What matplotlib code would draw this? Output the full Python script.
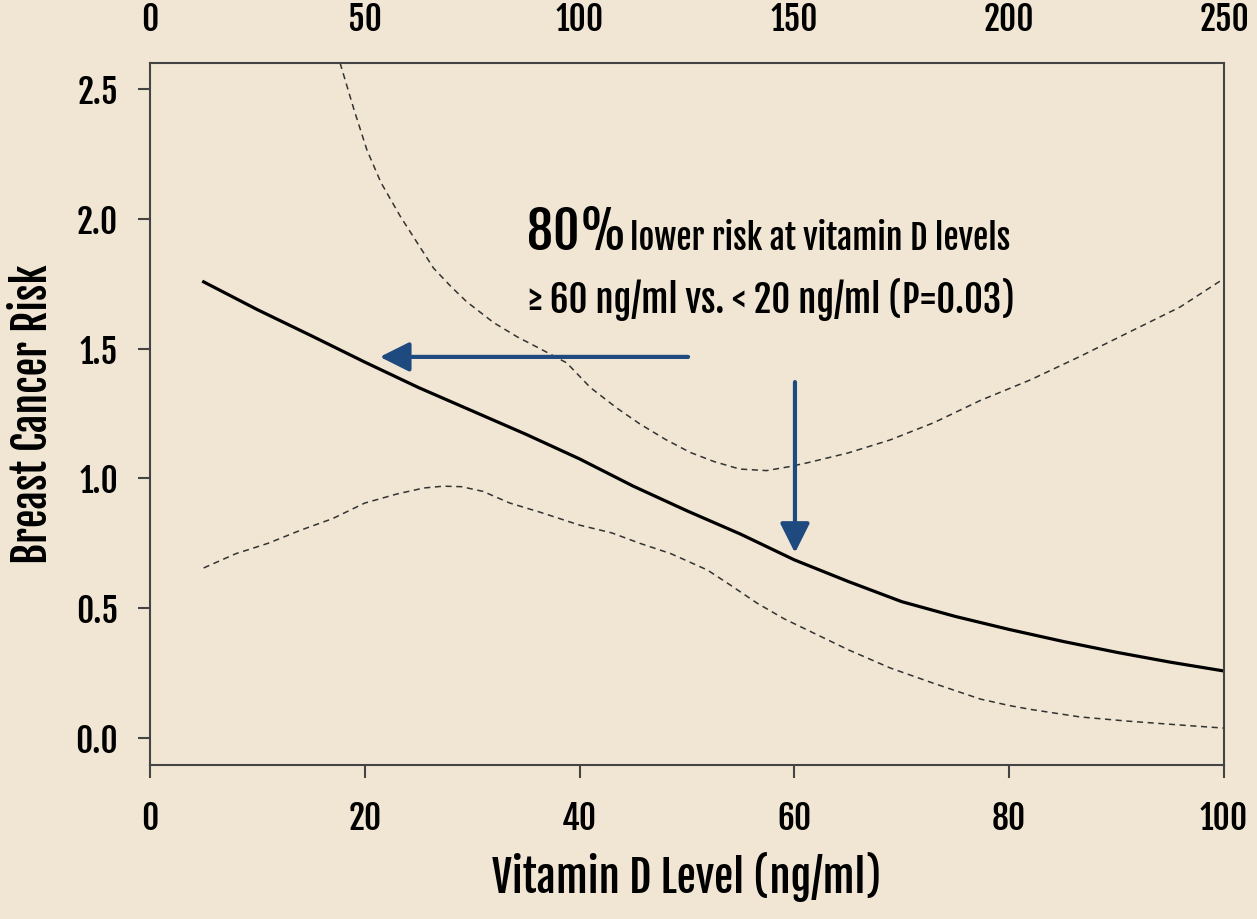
import matplotlib
matplotlib.use("Agg")
import matplotlib.pyplot as plt

plt.rcParams['font.family'] = ['Fjalla One', 'Barlow Condensed', 'DejaVu Sans']
plt.rcParams['font.weight'] = 'bold'
plt.rcParams['axes.labelweight'] = 'bold'

bg = '#f0e6d3'
blue = '#1f4a80'

# vitamin D level (ng/ml) and estimated risk
x_mid = [5, 10, 15, 20, 25, 30, 35, 40, 45, 50, 55, 60, 65, 70, 75, 80, 85, 90, 95, 100]
risk_mid = [1.757, 1.65, 1.55, 1.448, 1.35, 1.26, 1.17, 1.075, 0.97, 0.875, 0.785, 0.686,
            0.603, 0.525, 0.468, 0.418, 0.372, 0.33, 0.292, 0.258]

x_up = [17.7, 19, 20.2, 21.5, 23.3, 25, 26.4, 28, 29.5, 32, 34.2, 36.3, 38.8, 41, 43.5, 45.6,
        48, 50.3, 52.5, 54.9, 57.4, 59.5, 61.2, 65, 68.9, 73, 77.3, 82, 86.6, 91, 95.9, 100]
risk_up = [2.60, 2.42, 2.265, 2.14, 2.01, 1.90, 1.81, 1.74, 1.68, 1.60, 1.545, 1.50, 1.445, 1.35,
           1.27, 1.21, 1.15, 1.10, 1.065, 1.036, 1.03, 1.045, 1.06, 1.098, 1.148, 1.215, 1.30, 1.38,
           1.47, 1.56, 1.66, 1.77]

x_low = [5, 8, 11, 14, 17, 20, 23, 25.5, 27.3, 29, 31, 33.5, 36.3, 40, 43, 45.6, 48.5, 51.9,
         54, 56.5, 59, 61.2, 65, 68.9, 73, 77.3, 80, 82, 86.6, 91, 95.9, 100]
risk_low = [0.655, 0.71, 0.75, 0.80, 0.845, 0.905, 0.94, 0.963, 0.97, 0.968, 0.95, 0.905, 0.87,
            0.82, 0.79, 0.75, 0.71, 0.647, 0.59, 0.52, 0.46, 0.416, 0.34, 0.27, 0.21, 0.15, 0.125,
            0.11, 0.081, 0.065, 0.05, 0.038]

yticks = [0.0, 0.5, 1.0, 1.5, 2.0, 2.5]
xticks = [0, 20, 40, 60, 80, 100]
top_ticks = [0, 50, 100, 150, 200, 250]

fig = plt.figure(figsize=(12.57, 9.19), dpi=100, facecolor=bg)
ax = fig.add_axes([0.1193, 0.1676, 0.8545, 0.7638], facecolor=bg)

ax.plot(x_mid, risk_mid, color='black', lw=2.3)
ax.plot(x_up, risk_up, color='#333333', lw=1.1, linestyle=(0, (4, 3)))
ax.plot(x_low, risk_low, color='#333333', lw=1.1, linestyle=(0, (4, 3)))

ax.set_xlim(0, 100)
ax.set_ylim(-0.104, 2.60)
ax.set_xticks(xticks)
ax.set_xticklabels([str(t) for t in xticks])
ax.set_yticks(yticks)
ax.set_yticklabels(['%.1f' % t for t in yticks])
for s in ax.spines.values():
    s.set_color('#444444')
    s.set_linewidth(1.5)
ax.tick_params(axis='both', direction='out', length=9, width=1.5, color='#444444', labelsize=24)
ax.tick_params(axis='x', pad=16)
ax.tick_params(axis='y', pad=14)
ax.set_xlabel('Vitamin D Level (ng/ml)', fontsize=31, labelpad=11)
ax.set_ylabel('Breast Cancer Risk', fontsize=30, labelpad=14)

ax2 = ax.twiny()
ax2.set_xlim(0, 250)
ax2.set_xticks(top_ticks)
ax2.set_xticklabels([str(t) for t in top_ticks])
ax2.tick_params(axis='x', length=0, labelsize=24, pad=18)
for s in ax2.spines.values():
    s.set_visible(False)

# annotation
ax.text(44.4, 1.88, '80%', fontsize=37, ha='right', va='baseline')
ax.text(44.7, 1.88, 'lower risk at vitamin D levels', fontsize=24.5, ha='left', va='baseline')
ax.text(57.9, 1.637, '\u2265 60 ng/ml vs. < 20 ng/ml (P=0.03)', fontsize=26.5, ha='center', va='baseline')

head = '-|>,head_length=1.8,head_width=0.9'
ax.annotate('', xy=(21.4, 1.468), xytext=(50.1, 1.468),
            arrowprops=dict(arrowstyle=head, color=blue, lw=3, shrinkA=0, shrinkB=0))
ax.annotate('', xy=(60.05, 0.713), xytext=(60.05, 1.371),
            arrowprops=dict(arrowstyle=head, color=blue, lw=3, shrinkA=0, shrinkB=0))

fig.savefig('out.png', dpi=100, facecolor=bg)
